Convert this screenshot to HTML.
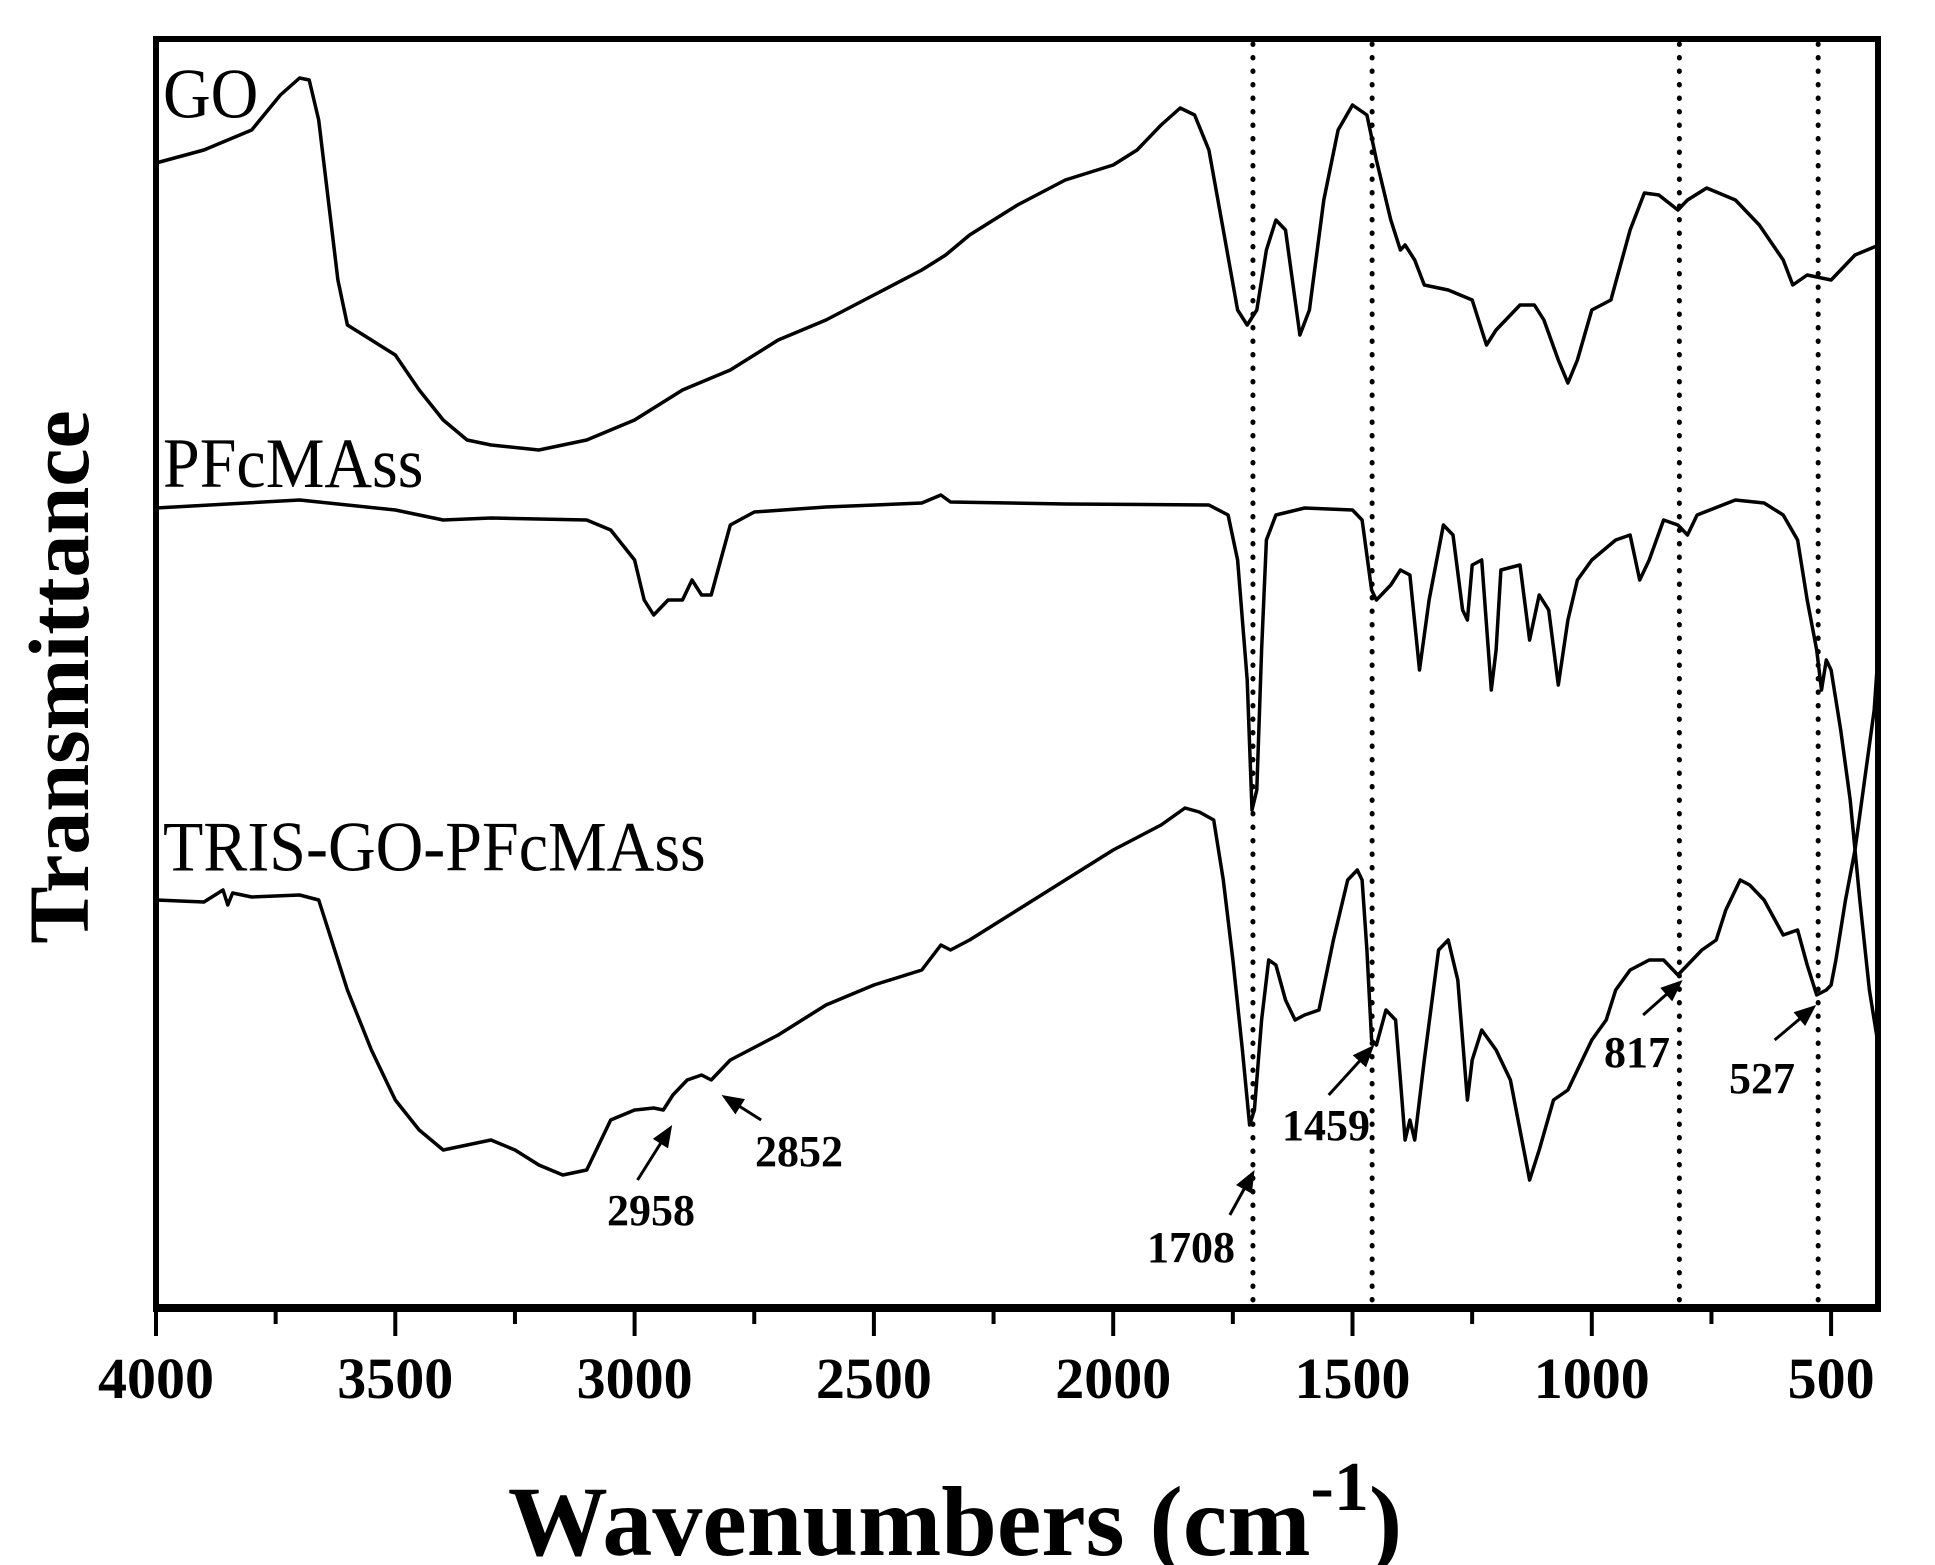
<!DOCTYPE html>
<html><head><meta charset="utf-8"><style>
html,body{margin:0;padding:0;background:#fff}
svg{display:block}
text{font-family:"Liberation Serif",serif;fill:#000}
</style></head><body>
<svg id="s" width="1935" height="1565" viewBox="0 0 1935 1565" xmlns="http://www.w3.org/2000/svg">
<rect x="0" y="0" width="1935" height="1565" fill="#fff"/>
<g id="dots" stroke="#000" stroke-width="5" stroke-dasharray="0.5,13" stroke-linecap="round"></g>
<g id="curves" fill="none" stroke="#000" stroke-width="3.5" stroke-linejoin="round"></g>
<rect x="156" y="39" width="1722" height="1269" fill="none" stroke="#000" stroke-width="6"/>
<line x1="153" y1="1308" x2="1881" y2="1308" stroke="#000" stroke-width="8"/>
<g id="ticks" stroke="#000" stroke-width="4"></g>
<g font-weight="bold" font-size="58" text-anchor="middle" id="tl"></g>
<text x="955" y="1555" font-size="100" font-weight="bold" text-anchor="middle">Wavenumbers (cm<tspan dy="-45" font-size="70">-1</tspan><tspan dy="45">)</tspan></text>
<text transform="translate(88,677) rotate(-90)" font-size="86" font-weight="bold" text-anchor="middle">Transmittance</text>
<g font-size="66" transform="scale(1,1.08)">
<text x="163" y="109">GO</text>
<text x="163" y="451">PFcMAss</text>
<text x="163" y="806">TRIS-GO-PFcMAss</text>
</g>
<g font-size="44" font-weight="bold">
<text x="607" y="1225">2958</text>
<text x="755" y="1166">2852</text>
<text x="1147" y="1262">1708</text>
<text x="1282" y="1140">1459</text>
<text x="1604" y="1067">817</text>
<text x="1729" y="1093">527</text>
</g>
<g id="arr" stroke="#000" stroke-width="3" fill="#000"></g>
</svg>
<script>
const X=w=>156+(4000-w)*0.4786;
const NS="http://www.w3.org/2000/svg";
function el(p,t,a){const e=document.createElementNS(NS,t);for(const k in a)e.setAttribute(k,a[k]);document.getElementById(p).appendChild(e);return e;}
[1708,1459,817,527].forEach(w=>el("dots","line",{x1:X(w),y1:44,x2:X(w),y2:1304}));
for(let w=4000;w>=400;w-=250){const maj=w%500==0;el("ticks","line",{x1:X(w),y1:1308,x2:X(w),y2:maj?1336:1324});
if(maj){const t=el("tl","text",{x:X(w),y:1398});t.textContent=w;}}
const GO=[[4000,163],[3900,150],[3800,130],[3740,95],[3700,78],[3680,80],[3660,120],[3640,200],[3620,280],[3600,325],[3550,340],[3500,355],[3450,390],[3400,420],[3350,440],[3300,445],[3200,450],[3100,440],[3000,420],[2900,390],[2800,370],[2700,340],[2600,320],[2500,295],[2400,270],[2350,255],[2300,235],[2200,205],[2100,180],[2000,165],[1950,150],[1900,125],[1860,108],[1830,115],[1800,150],[1770,230],[1740,310],[1720,325],[1700,310],[1680,250],[1660,220],[1640,230],[1620,300],[1610,335],[1590,310],[1560,200],[1530,130],[1500,105],[1470,115],[1450,160],[1420,220],[1400,250],[1390,245],[1370,260],[1350,285],[1300,290],[1250,300],[1230,330],[1220,345],[1200,330],[1150,305],[1120,305],[1100,320],[1070,360],[1050,383],[1030,360],[1000,310],[960,300],[920,230],[890,193],[860,195],[820,210],[800,200],[760,188],[700,200],[650,225],[600,260],[580,285],[550,275],[500,280],[480,270],[450,255],[400,245]];
const PF=[[4000,508],[3700,500],[3500,510],[3400,520],[3300,518],[3100,520],[3050,530],[3000,560],[2980,600],[2960,615],[2930,600],[2900,600],[2880,580],[2860,595],[2840,595],[2820,560],[2800,525],[2750,512],[2600,507],[2400,503],[2360,495],[2340,502],[2100,504],[1800,505],[1760,515],[1740,560],[1720,680],[1710,810],[1700,790],[1690,650],[1680,540],[1660,515],[1600,508],[1500,510],[1480,520],[1460,590],[1450,600],[1420,585],[1400,570],[1380,575],[1360,670],[1340,600],[1310,525],[1290,535],[1270,610],[1260,620],[1250,565],[1230,560],[1210,690],[1200,650],[1190,570],[1150,565],[1130,640],[1110,595],[1090,610],[1070,685],[1050,620],[1030,580],[1000,560],[950,540],[920,535],[900,580],[880,560],[850,520],[820,525],[800,535],[780,515],[700,500],[640,503],[600,515],[570,540],[550,600],[530,650],[520,690],[510,660],[500,670],[480,730],[460,800],[440,900],[420,990],[400,1050]];
const TR=[[4000,900],[3900,902],[3860,890],[3850,905],[3840,893],[3800,897],[3700,895],[3660,900],[3640,930],[3600,990],[3550,1050],[3500,1100],[3450,1130],[3400,1150],[3350,1145],[3300,1140],[3250,1150],[3200,1165],[3150,1175],[3100,1170],[3070,1140],[3050,1120],[3000,1110],[2960,1108],[2940,1110],[2920,1095],[2890,1080],[2860,1075],[2840,1080],[2800,1060],[2700,1035],[2600,1005],[2500,985],[2400,970],[2360,945],[2340,950],[2300,940],[2200,910],[2100,880],[2000,850],[1900,825],[1850,808],[1820,812],[1790,820],[1770,880],[1750,960],[1730,1050],[1715,1125],[1705,1110],[1690,1020],[1675,960],[1660,965],[1640,1000],[1620,1020],[1600,1015],[1570,1010],[1540,940],[1510,880],[1490,870],[1480,880],[1470,950],[1460,1040],[1450,1045],[1430,1010],[1410,1020],[1400,1080],[1390,1140],[1380,1120],[1370,1140],[1350,1060],[1320,950],[1300,940],[1280,980],[1260,1100],[1250,1060],[1230,1030],[1200,1050],[1170,1080],[1150,1130],[1130,1180],[1110,1150],[1080,1100],[1050,1090],[1000,1040],[970,1020],[950,990],[920,970],[880,960],[850,960],[820,975],[800,965],[770,950],[740,940],[720,910],[690,880],[670,885],[640,900],[600,935],[570,930],[550,965],[530,995],[510,990],[500,985],[490,960],[470,900],[450,850],[430,780],[410,710],[400,640]];
[GO,PF,TR].forEach(d=>el("curves","polyline",{points:d.map(p=>X(p[0]).toFixed(1)+","+p[1]).join(" ")}));
function arrow(x1,y1,x2,y2){el("arr","line",{x1,y1,x2:x2-(x2-x1)*0.25,y2:y2-(y2-y1)*0.25});
const a=Math.atan2(y2-y1,x2-x1),L=22,W=9;
const bx=x2-L*Math.cos(a),by=y2-L*Math.sin(a);
const p=[[x2,y2],[bx+W*Math.sin(a),by-W*Math.cos(a)],[bx-W*Math.sin(a),by+W*Math.cos(a)]];
el("arr","polygon",{points:p.map(q=>q.join(",")).join(" "),stroke:"none"});}
function A(x1,y1,x2,y2){const f=x=>156+(x-156)*0.9888;arrow(f(x1),y1,f(x2),y2);}
A(643,1180,678,1125);A(768,1120,728,1095);A(1242,1215,1267,1170);
A(1342,1095,1388,1045);A(1660,1015,1700,980);A(1793,1040,1835,1005);
</script>
</body></html>
